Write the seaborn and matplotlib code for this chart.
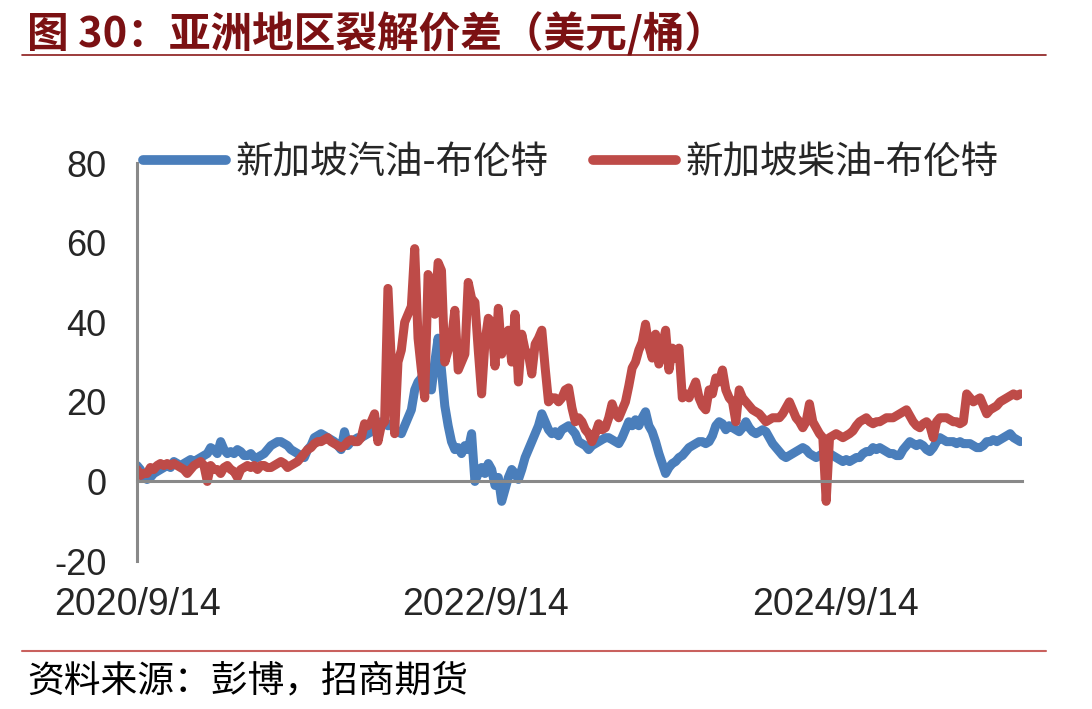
import numpy as np
import pandas as pd
import matplotlib
matplotlib.use("Agg")
import matplotlib.pyplot as plt
import seaborn as sns

# 周度数据（美元/桶），起点 2020/9/14
start_date = "2020-09-14"
series_names = ["新加坡汽油-布伦特", "新加坡柴油-布伦特"]
tick_labels = ["2020/9/14", "2022/9/14", "2024/9/14"]

gasoline = [
    4, 3, 1, 0.5, 1, 2, 2.5, 3, 3.5, 4,
    3.5, 5, 4.5, 4, 4.5, 5, 5.5, 5, 5.5, 6,
    6.5, 7, 8.5, 8, 7, 10, 8, 7, 7.5, 7,
    8, 7.5, 6.5, 6.5, 7, 6, 6, 6.5, 7, 8,
    9, 9.5, 10, 10, 9.5, 9, 8, 7.5, 7, 6.5,
    6, 8, 9, 11, 11.5, 12, 11.5, 11, 10.5, 10,
    9, 8, 12.5, 9, 10, 10.5, 11, 11, 11.5, 12,
    12.5, 13, 14, 15, 15, 14, 14.5, 13, 12.5, 12,
    14, 16, 18, 23, 25, 26, 28, 27, 23, 30,
    36, 28, 19, 14, 10, 8, 8.5, 7, 9, 8,
    12, 0, 2, 3.5, 2, 4.5, 3, -1, 1, -5,
    -2, 1, 3, 2, 0.5, 3, 6, 8, 10, 12,
    14, 17, 15, 13, 12, 12.5, 11.5, 13, 13.5, 14,
    13, 12, 10, 9.5, 9, 8, 9, 9.5, 10, 10.5,
    11, 11, 10.5, 10, 9.5, 11, 13, 15, 14, 15.5,
    14, 16, 17.5, 14, 12.5, 10, 7, 4.5, 2, 3.5,
    4.5, 5, 6, 6.5, 7.5, 8.5, 9, 9.5, 10, 10,
    9.5, 10, 11.5, 14, 15, 14.5, 13, 14, 13.5, 13,
    12.5, 13.5, 15, 13.5, 12.5, 12, 12.5, 13, 12.5, 11,
    9.5, 8.5, 7.5, 6.5, 6, 6.5, 7, 7.5, 8, 8.5,
    8, 7, 6.5, 6, 6.5, 7, 7.5, 7, 6.5, 6,
    5.5, 5, 5.5, 5, 5.5, 6, 6, 7, 7.5, 7.5,
    8.5, 8, 8.5, 8, 7.5, 7, 7, 6.5, 6.5, 8,
    9, 10, 9.5, 9, 9.5, 9, 8, 7.5, 8.5, 10,
    11, 10.5, 10, 10, 10, 9.5, 10, 9.5, 9.5, 9.5,
    9, 8.5, 8.5, 9, 10, 10, 10.5, 10, 10.5, 11,
    11.5, 12, 11, 10.5, 10,
]

diesel = [
    3, 1.5, 2, 2, 3.5, 3, 4, 4.5, 4, 4.5,
    4, 4.5, 4, 3.5, 3, 2, 3, 4, 4.5, 5,
    4, 0, 4, 3, 3, 2, 3.5, 4, 3, 2.5,
    1, 3, 3.5, 4, 3.5, 4, 3, 4, 4, 3.5,
    3.5, 4, 4.5, 5, 4.5, 3.5, 4, 4.5, 5, 6,
    7, 8, 8.5, 9.5, 10, 10, 10.5, 11, 10, 9.5,
    9, 8.5, 9, 10, 10.5, 10, 10, 11, 14.5, 14,
    15, 17, 10, 14, 15, 48.5, 30, 12, 30, 33,
    40, 42, 44, 58.5, 36, 28, 21, 52, 50, 42,
    55, 53, 30, 33, 36, 43, 28, 30, 32, 50,
    46, 45, 33, 22, 35, 41, 40, 29, 43.5, 32,
    36, 38, 30, 42, 25, 37, 33, 32, 27, 34.5,
    36, 38, 28.5, 20, 21, 21, 20, 21, 23, 23.5,
    18.5, 15, 16, 15, 13, 12, 10, 12, 14.5, 13,
    13.5, 16, 19.5, 17, 16, 18, 20, 24, 28.5, 30,
    33, 35, 39.5, 34, 31, 37, 29.5, 34, 38, 28,
    33.5, 31, 33.5, 21, 22, 21, 23, 25, 21, 19,
    18, 23, 22, 26, 25, 28, 23, 21, 20, 15,
    23, 21, 20, 19, 18, 17.5, 17, 16, 15, 15.5,
    16, 16, 16, 17, 18.5, 20, 18, 16, 15, 13.5,
    15, 19.5, 15, 13.5, 12, 11, -5, 11, 11.5, 12,
    11.5, 11, 11.5, 12, 12.7, 14, 15, 15.5, 16, 15,
    14.5, 15, 15, 15.5, 16, 16, 16, 16.5, 17, 17.5,
    18, 16.5, 15, 14, 13.5, 14.5, 15, 14, 11, 15,
    16, 16, 16, 15.5, 15, 15, 14.5, 15, 22, 21,
    20, 20.5, 21, 19, 17, 18, 18.5, 19, 20, 20.5,
    21, 21.5, 22, 21.5, 22,
]

dates = pd.date_range(start_date, periods=len(gasoline), freq="7D")
df = pd.DataFrame({
    "date": np.concatenate([dates, dates]),
    "value": gasoline + diesel,
    "series": [series_names[0]] * len(gasoline) + [series_names[1]] * len(diesel),
})

sns.set_style("white")
plt.rcParams["font.family"] = ["Noto Sans CJK SC", "DejaVu Sans"]
plt.rcParams["axes.unicode_minus"] = False

blue = "#4A7EBB"
red = "#BE4B48"
grey = "#898989"
num_font = "Liberation Sans"

fig = plt.figure(figsize=(10.92, 7.09), dpi=100)
ax = fig.add_axes([0.1255, 0.2087, 0.8105, 0.5613])

sns.lineplot(data=df, x="date", y="value", hue="series", hue_order=series_names,
             palette=[blue, red], linewidth=6.5, ax=ax, legend=False,
             solid_capstyle="round", solid_joinstyle="round")

ax.set_ylim(-20, 80)
ax.set_yticks([-20, 0, 20, 40, 60, 80])
ax.set_xlim(dates[0], dates[-1] + pd.Timedelta(days=4))
ax.set_xticks(pd.to_datetime(tick_labels))
ax.set_xticklabels(tick_labels)
ax.set_xlabel("")
ax.set_ylabel("")

ax.spines["top"].set_visible(False)
ax.spines["right"].set_visible(False)
ax.spines["left"].set_color(grey)
ax.spines["left"].set_linewidth(2.2)
ax.spines["bottom"].set_color(grey)
ax.spines["bottom"].set_linewidth(2.2)
ax.spines["bottom"].set_position(("data", 0))
ax.tick_params(axis="y", length=0, pad=22, labelsize=26, labelfontfamily=num_font)
ax.tick_params(axis="x", direction="out", length=6, width=2.2, color=grey, pad=70,
               labelsize=27, labelfontfamily=num_font)

handles = [plt.Line2D([], [], color=c, linewidth=7, solid_capstyle="round") for c in (blue, red)]
ax.legend(handles, series_names, loc="center left", bbox_to_anchor=(0.007, 1.0),
          ncol=2, frameon=False, fontsize=27, handlelength=2.2, handletextpad=0.25,
          columnspacing=1.2, borderpad=0, borderaxespad=0)

# 标题与来源
fig.text(0.025, 0.952, "图 30：亚洲地区裂解价差（美元/桶）", fontsize=30,
         fontweight="bold", color="#7B1113", va="center", ha="left")
fig.add_artist(plt.Line2D([0.02, 0.958], [0.922, 0.922], color="#8B1A1A", linewidth=1.2))
fig.add_artist(plt.Line2D([0.02, 0.958], [0.082, 0.082], color="#C9615E", linewidth=1.5))
fig.text(0.025, 0.04, "资料来源：彭博，招商期货", fontsize=26.5, color="black",
         va="center", ha="left")

plt.savefig("out.png", dpi=100)
